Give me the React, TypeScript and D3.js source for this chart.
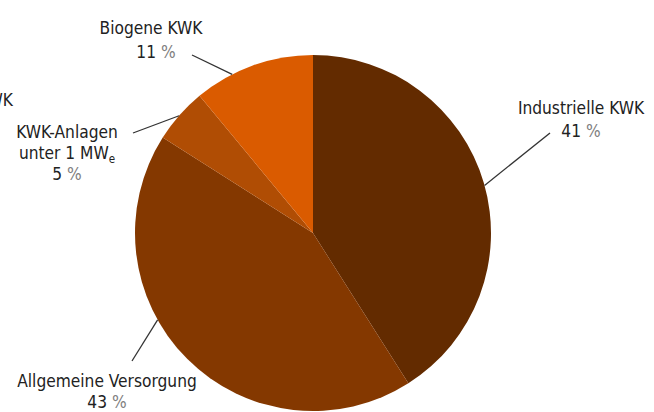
import React from "react";
import * as d3 from "d3";

// Shares of CHP generation by plant type (percent)
const categories = ["Industrielle KWK", "Allgemeine Versorgung", "KWK-Anlagen unter 1 MW", "Biogene KWK"];
const shares = [41, 43, 5, 11];
const colors = ["#632b00", "#843800", "#b04d04", "#da5b00"];

const W = 654;
const H = 412;
const cx = 313;
const cy = 233;
const R = 178;

// Label placement: text anchor, first baseline, angle on the rim where the leader starts, leader's outer end
const labelLayout = [
  { x: 581, y: 114, leaderDeg: 74.5, lx: 550, ly: 133 },
  { x: 107, y: 387, leaderDeg: 240.8, lx: 132, ly: 361 },
  { x: 67, y: 138, leaderDeg: 311.2, lx: 133, ly: 133 },
  { x: 151, y: 34, leaderDeg: 333, lx: 192, ly: 55 },
];

const FONT = "'DejaVu Sans Condensed', 'Liberation Sans Narrow', sans-serif";

export default function App() {
  const pie = d3
    .pie<number>()
    .sort(null)
    .value((d) => d)
    .startAngle(0)
    .endAngle(2 * Math.PI);
  const arcs = pie(shares);
  const arc = d3.arc<d3.PieArcDatum<number>>().innerRadius(0).outerRadius(R);

  const lineH = 21;

  return (
    <svg width={W} height={H} style={{ position: "absolute", left: 0, top: 0, background: "#fff" }}>
      <g transform={`translate(${cx},${cy})`}>
        {arcs.map((a, i) => (
          <path key={i} d={arc(a) ?? ""} fill={colors[i]} />
        ))}
      </g>

      {arcs.map((a, i) => {
        const L = labelLayout[i];
        const t = (L.leaderDeg * Math.PI) / 180;
        const px = cx + R * Math.sin(t);
        const py = cy - R * Math.cos(t);
        return <line key={i} x1={L.lx} y1={L.ly} x2={px} y2={py} stroke="#333" strokeWidth={1.3} />;
      })}

      <g fontFamily={FONT} fontSize={17.2} fill="#222" textAnchor="middle">
        {/* Industrielle KWK */}
        <text x={labelLayout[0].x} y={labelLayout[0].y}>{categories[0]}</text>
        <text x={labelLayout[0].x} y={labelLayout[0].y + 23}>
          {shares[0]} <tspan fill="#808080">%</tspan>
        </text>

        {/* Allgemeine Versorgung */}
        <text x={labelLayout[1].x} y={labelLayout[1].y}>{categories[1]}</text>
        <text x={labelLayout[1].x} y={labelLayout[1].y + lineH}>
          {shares[1]} <tspan fill="#808080">%</tspan>
        </text>

        {/* KWK-Anlagen unter 1 MWe */}
        <text x={labelLayout[2].x} y={labelLayout[2].y}>KWK-Anlagen</text>
        <text x={labelLayout[2].x} y={labelLayout[2].y + lineH}>
          unter 1 MW<tspan fontSize={11.5} dy={4}>e</tspan>
        </text>
        <text x={labelLayout[2].x} y={labelLayout[2].y + 2 * lineH}>
          {shares[2]} <tspan fill="#808080">%</tspan>
        </text>

        {/* Biogene KWK */}
        <text x={labelLayout[3].x} y={labelLayout[3].y}>{categories[3]}</text>
        <text x={labelLayout[3].x + 5} y={labelLayout[3].y + 24}>
          {shares[3]} <tspan fill="#808080">%</tspan>
        </text>

        {/* label of the neighbouring panel, clipped by the left edge */}
        <text x={13} y={106} textAnchor="end">KWK</text>
      </g>
    </svg>
  );
}
